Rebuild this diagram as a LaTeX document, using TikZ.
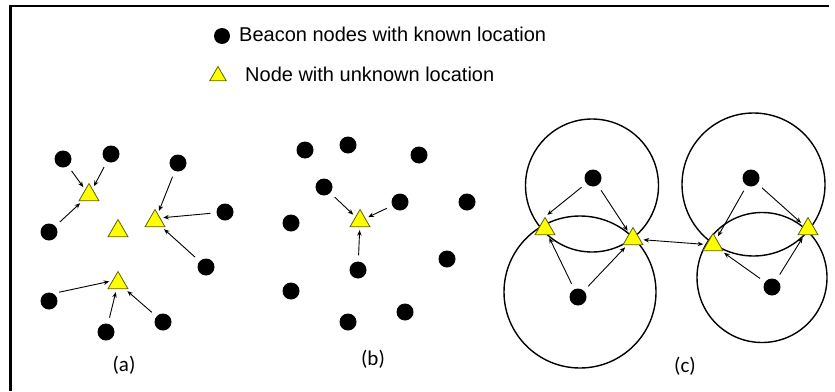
\documentclass[tikz,border=0pt]{standalone}
\usepackage{fontspec}
\setmainfont{Liberation Sans}
\newfontfamily\captionfont{Carlito}
\usetikzlibrary{shapes.geometric,arrows.meta}

\definecolor{triyellow}{RGB}{255,255,0}
\definecolor{triedge}{RGB}{96,96,0}

\tikzset{
  beacon/.style={circle, fill=black, inner sep=0pt, minimum size=17pt},
  unknown/.style={regular polygon, regular polygon sides=3, fill=triyellow,
    draw=triedge, line width=0.8pt, inner sep=0pt, minimum size=23pt},
  smallhead/.tip={Stealth[length=5.5pt,width=4.5pt]},
  link/.style={-smallhead, line width=0.9pt, shorten <=6pt, shorten >=3pt},
  twoway/.style={smallhead-smallhead, line width=0.9pt, shorten <=3pt, shorten >=3pt},
  rangecircle/.style={line width=1.4pt},
  frameline/.style={line width=2.2pt},
  legendtext/.style={font=\fontsize{20}{24}\selectfont, inner sep=0pt, anchor=base west},
  panellabel/.style={font=\captionfont\fontsize{21}{24}\selectfont, inner sep=0pt},
}

\begin{document}
\begin{tikzpicture}[x=1pt,y=-1pt]
\useasboundingbox (0,0) rectangle (835,391);

% open frame: left and top edges only
\draw[frameline] (10.5,391) -- (10.5,6) -- (829,6);

% legend
\node[beacon, minimum size=16pt] (keyb) at (222,36) {};
\node[legendtext] (keybtext) at (239,41) {Beacon nodes with known location};
\node[unknown, minimum size=19pt] (keyu) at (218,76) {};
\node[legendtext] (keyutext) at (245,81) {Node with unknown location};

% ---------------- panel (a) ----------------
\node[beacon] (a1) at (63,159) {};
\node[beacon] (a2) at (111,154) {};
\node[beacon] (a3) at (178,163) {};
\node[beacon] (a4) at (225,212) {};
\node[beacon] (a5) at (49,232) {};
\node[beacon] (a6) at (206,267) {};
\node[beacon] (a7) at (49,301) {};
\node[beacon] (a8) at (163,322) {};
\node[beacon] (a9) at (106,332) {};
\node[unknown] (ta1) at (89,195) {};
\node[unknown] (ta2) at (118,231) {};
\node[unknown] (ta3) at (155,221) {};
\node[unknown] (ta4) at (118,283) {};
\draw[link] (a1) -- (ta1);
\draw[link] (a2) -- (ta1.60);
\draw[link] (a5) -- (ta1);
\draw[link] (a3) -- (ta3);
\draw[link] (a4) -- (ta3.30);
\draw[link] (a6) -- (ta3);
\draw[link] (a7.60) -- (ta4.160);
\draw[link] (a9) -- (ta4);
\draw[link] (a8) -- (ta4);
\node[panellabel] (labela) at (124,365) {(a)};

% ---------------- panel (b) ----------------
\node[beacon] (b1) at (305,150) {};
\node[beacon] (b2) at (348,145) {};
\node[beacon] (b3) at (419,155) {};
\node[beacon] (b4) at (324,187) {};
\node[beacon] (b5) at (400,202) {};
\node[beacon] (b6) at (467,202) {};
\node[beacon] (b7) at (291,223) {};
\node[beacon] (b8) at (358,270) {};
\node[beacon] (b9) at (447,259) {};
\node[beacon] (b10) at (291,291) {};
\node[beacon] (b11) at (405,312) {};
\node[beacon] (b12) at (348,322) {};
\node[unknown] (tb) at (360,221) {};
\draw[link] (b4) -- (tb);
\draw[link] (b5) -- (tb);
\draw[link] (b8) -- (tb);
\node[panellabel] (labelb) at (373,359) {(b)};

% ---------------- panel (c) ----------------
\draw[rangecircle] (592,185.5) circle (66.5);
\draw[rangecircle] (580,292) circle (76);
\draw[rangecircle] (753.5,184.5) circle (71.5);
\draw[rangecircle] (762,277.5) circle (65);
\node[beacon] (c1) at (593,178) {};
\node[beacon] (c2) at (578,297) {};
\node[beacon] (c3) at (751,178) {};
\node[beacon] (c4) at (772,287) {};
\node[unknown] (tc1) at (545,229) {};
\node[unknown] (tc2) at (633,239) {};
\node[unknown] (tc3) at (713,245) {};
\node[unknown] (tc4) at (808,229) {};
\draw[link] (c1) -- (tc1.corner 1);
\draw[link] (c1) -- (tc2);
\draw[link] (c2) -- (tc1);
\draw[link] (c2) -- (tc2);
\draw[link] (c3) -- (tc3);
\draw[link] (c3) -- (tc4);
\draw[link] (c4) -- (tc3);
\draw[link] (c4) -- (tc4);
\draw[twoway] (tc2) -- (tc3);
\node[panellabel] (labelc) at (685,366) {(c)};
\end{tikzpicture}
\end{document}
